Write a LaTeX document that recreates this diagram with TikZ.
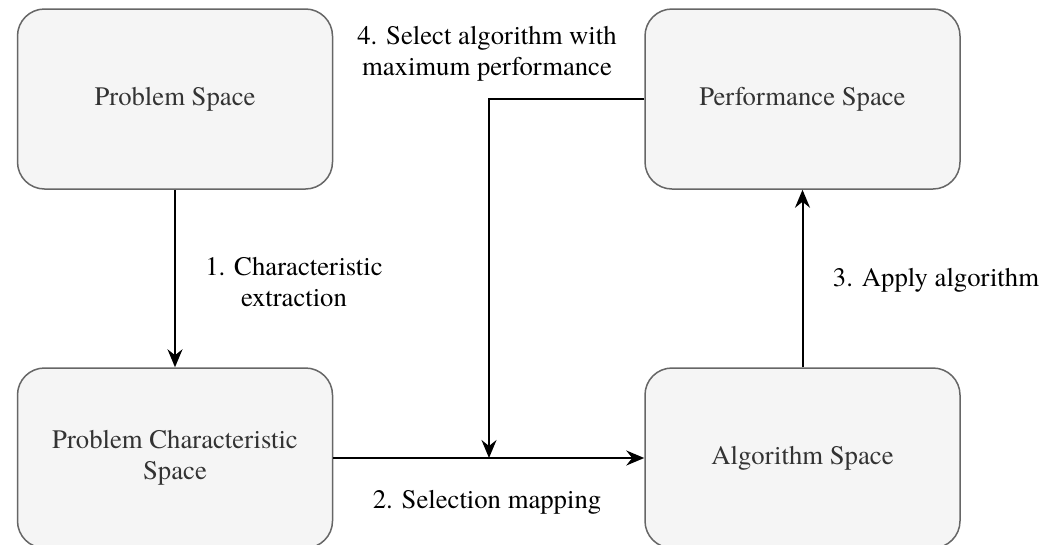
\documentclass[tikz,border=0pt]{standalone}
\usepackage{fontspec}
\setmainfont{TeX Gyre Termes}
\usetikzlibrary{arrows.meta}
\definecolor{boxfill}{HTML}{F5F5F5}
\definecolor{boxline}{HTML}{666666}
\definecolor{boxtext}{HTML}{333333}
\tikzset{
  spacebox/.style={draw=boxline, fill=boxfill, line width=1.5pt, rounded corners=27pt,
    minimum width=315pt, minimum height=180pt, align=center, text=boxtext,
    font=\fontsize{26.7}{31}\selectfont, inner sep=0pt},
  flow/.style={draw=black, line width=2pt, -{Stealth[length=18pt, width=15pt, inset=6pt]}},
  lbl/.style={align=center, text=black, font=\fontsize{26.7}{31}\selectfont, inner sep=0pt}
}
\begin{document}
\begin{tikzpicture}[x=1pt, y=-1pt]
\useasboundingbox (0,0) rectangle (1054,544);
\clip (0,0) rectangle (1054,544);
\fill[white] (0,0) rectangle (1054,544);
\node[spacebox] (ps) at (175,99) {Problem Space};
\node[spacebox] (perf) at (802.5,99) {Performance Space};
\node[spacebox] (pcs) at (175,458) {Problem Characteristic\\Space};
\node[spacebox] (alg) at (802.5,458) {Algorithm Space};
\coordinate (join) at (489,458);
\draw[flow] (ps.south) -- (pcs.north);
\draw[flow] (pcs.east) -- (alg.west);
\draw[flow] (alg.north) -- (perf.south);
\draw[flow] (perf.west) -| (join);
\node[lbl] (l1) at (294,282) {1. Characteristic\\extraction};
\node[lbl] (l2) at (487,502) {2. Selection mapping};
\node[lbl] (l3) at (936,280) {3. Apply algorithm};
\node[lbl] (l4) at (487,54) {4. Select algorithm with\\maximum performance};
\end{tikzpicture}
\end{document}
